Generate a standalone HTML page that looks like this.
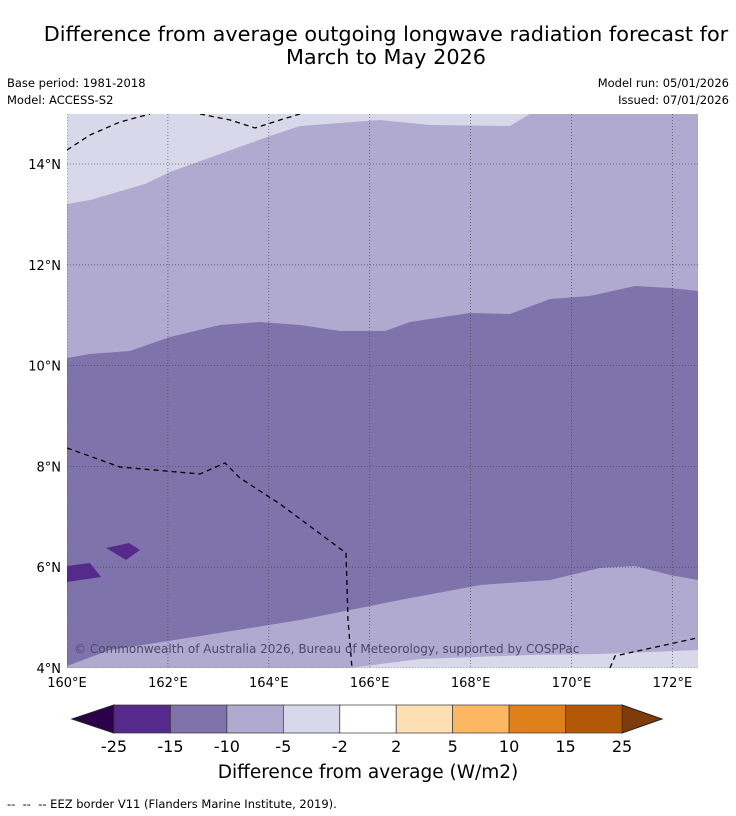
<!DOCTYPE html>
<html><head><meta charset="utf-8">
<style>
body{margin:0;background:#fff;width:736px;height:816px;overflow:hidden;font-family:"DejaVu Sans","Liberation Sans",sans-serif;}
.t{position:absolute;color:#000;white-space:nowrap}
</style></head>
<body>
<div class="t" style="left:0;width:772px;top:23px;text-align:center;font-size:20.8px;line-height:23px">Difference from average outgoing longwave radiation forecast for<br>March to May 2026</div>
<div class="t" style="left:7px;top:76px;font-size:11.5px">Base period: 1981-2018</div>
<div class="t" style="left:7px;top:93px;font-size:11.5px">Model: ACCESS-S2</div>
<div class="t" style="right:7px;top:76px;font-size:11.5px">Model run: 05/01/2026</div>
<div class="t" style="right:7px;top:93px;font-size:11.5px">Issued: 07/01/2026</div>
<svg width="736" height="816" style="position:absolute;left:0;top:0" id="svg">
<defs><clipPath id="mc"><rect x="67" y="114" width="631" height="554"/></clipPath></defs>
<g clip-path="url(#mc)" id="map">
<rect x="67" y="114" width="631" height="554" fill="#d9d8ea"/>
<polygon fill="#b0a9d0" points="67,204 90,200 145,184 170,172 220,154 270,136 300,126 380,120 430,125 510,126 530,114 698,114 698,650 600,654 530,655 420,659 350,668 67,668"/>
<polygon fill="#7f73ac" points="67,358 90,354 130,351 170,337 220,325 260,322 300,325 340,331 385,331 410,322 470,313 510,314 550,299 590,296 635,286 670,288 698,291 698,580 670,575 635,566 600,568 550,580 480,585 400,600 300,620 200,636 110,650 67,666"/>
<polygon fill="#552a8c" points="67,566 90,563 101,577 67,582"/>
<polygon fill="#552a8c" points="106,548 129,543 140,550 126,560"/>
<g id="grid" stroke="#444" stroke-width="0.8" stroke-dasharray="1,2" opacity="0.8"></g>
<g fill="none" stroke="#000" stroke-width="1.3" stroke-dasharray="5,4">
<polyline points="67,150 90,135 120,122 150,114"/>
<polyline points="200,114 230,120 255,128 280,120 300,114"/>
<polyline points="67,448 120,467 200,474 225,463 240,478 280,504 346,553 348,620 352,668"/>
<polyline points="610,668 615,656 697,638"/>
</g>
<text x="74" y="653" font-size="12" fill="#4a4a6a">© Commonwealth of Australia 2026, Bureau of Meteorology, supported by COSPPac</text>
</g>
<g id="ticks" font-size="13" fill="#000"></g>
<g id="cbar"></g>
<text x="368" y="778" font-size="18.5" text-anchor="middle">Difference from average (W/m2)</text>
<text x="7" y="808" font-size="11.5" xml:space="preserve">--  --  -- EEZ border V11 (Flanders Marine Institute, 2019).</text>
</svg>
<script>
const lons=[160,162,164,166,168,170,172];
const lats=[4,6,8,10,12,14];
const cbLevels=["-25","-15","-10","-5","-2","2","5","10","15","25"];
const cbColors=["#552a8c","#7f73ac","#b0a9d0","#d9d8ea","#ffffff","#fddfb3","#fdb762","#e0801b","#b35807"];
const cbExt=["#2d004b","#7f3b08"];
const NS="http://www.w3.org/2000/svg";
const xs=l=>67+(l-160)*50.45, ys=l=>668-(l-4)*50.4;
function mk(t,a,p){const e=document.createElementNS(NS,t);for(const k in a)e.setAttribute(k,a[k]);p.appendChild(e);return e;}
const grid=document.getElementById('grid'),ticks=document.getElementById('ticks');
lons.forEach(l=>{const x=xs(l);
 const g=mk('line',{x1:x,x2:x,y1:114,y2:668},grid);
 
 
 const t=mk('text',{x:x,y:687,'text-anchor':'middle'},ticks);t.textContent=l+'°E';
 
 });
lats.forEach(l=>{const y=ys(l);
 const g=mk('line',{x1:67,x2:698,y1:y,y2:y},grid);
 
 
 const t=mk('text',{x:61,y:y+5,'text-anchor':'end'},ticks);t.textContent=l+'°N';
 
 });
const cb=document.getElementById('cbar');
const x0=114,x1=622,w=(x1-x0)/cbColors.length,y0=705,y1=733;
const lt=mk('polygon',{points:`${x0},${y0} ${x0},${y1} 72,${(y0+y1)/2}`,fill:cbExt[0],stroke:'#222','stroke-width':1},cb);


const rt=mk('polygon',{points:`${x1},${y0} ${x1},${y1} 662,${(y0+y1)/2}`,fill:cbExt[1],stroke:'#222','stroke-width':1},cb);


cbColors.forEach((c,i)=>{const r=mk('rect',{x:x0+i*w,y:y0,width:w,height:y1-y0,fill:c,stroke:'#333','stroke-width':0.7},cb);
 
 });
cbLevels.forEach((s,i)=>{const t=mk('text',{x:x0+i*w,y:752,'text-anchor':'middle','font-size':16},cb);t.textContent=s;
 
 });
</script>
</body></html>
